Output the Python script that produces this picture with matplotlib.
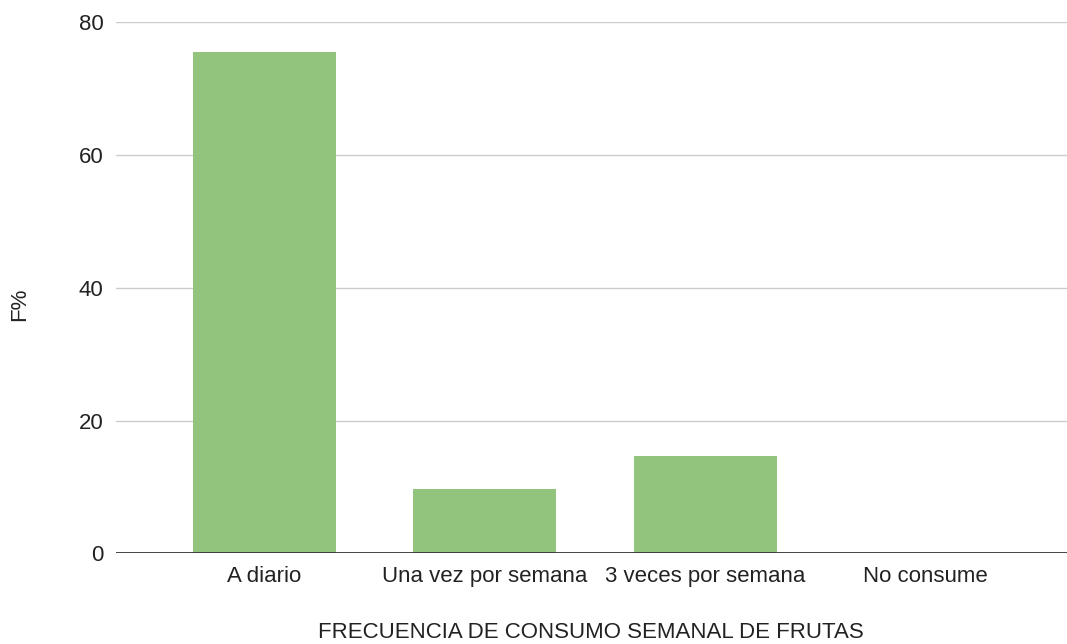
import matplotlib
matplotlib.use("Agg")
import matplotlib.pyplot as plt

categories = ["A diario", "Una vez por semana", "3 veces por semana", "No consume"]
values = [75.6, 9.76, 14.63, 0.0]
yticks = [0, 20, 40, 60, 80]
xlabel = "FRECUENCIA DE CONSUMO SEMANAL DE FRUTAS"
ylabel = "F%"

plt.rcParams['font.family'] = ['Liberation Sans', 'DejaVu Sans']

fig = plt.figure(figsize=(10.67, 6.44), dpi=100)
ax = fig.add_axes([116/1067, 1 - 553.3/644, (1066.7-116)/1067, (553.3-22.3)/644])

x = list(range(len(categories)))
ax.bar(x, values, width=0.65, color="#93c47d", zorder=2)

ax.set_xlim(-0.672, 3.639)
ax.set_ylim(0, 80)
ax.set_yticks(yticks)
ax.set_yticklabels([str(t) for t in yticks])
ax.set_xticks(x)
ax.set_xticklabels(categories)

ax.grid(axis='y', color="#cccccc", linewidth=1.0, zorder=0)
ax.axhline(0, color="#333333", linewidth=2.0, zorder=3)
for s in ax.spines.values():
    s.set_visible(False)

ax.tick_params(axis='both', length=0, labelsize=16, colors="#222222")
ax.tick_params(axis='y', pad=9)
ax.tick_params(axis='x', pad=9)

ax.set_xlabel(xlabel, fontsize=16, color="#222222", labelpad=25)
fig.text(19.7/1067, 1 - 304/644, ylabel, rotation=90, fontsize=16,
         color="#222222", ha='center', va='center')

fig.savefig("out.png", dpi=100)
